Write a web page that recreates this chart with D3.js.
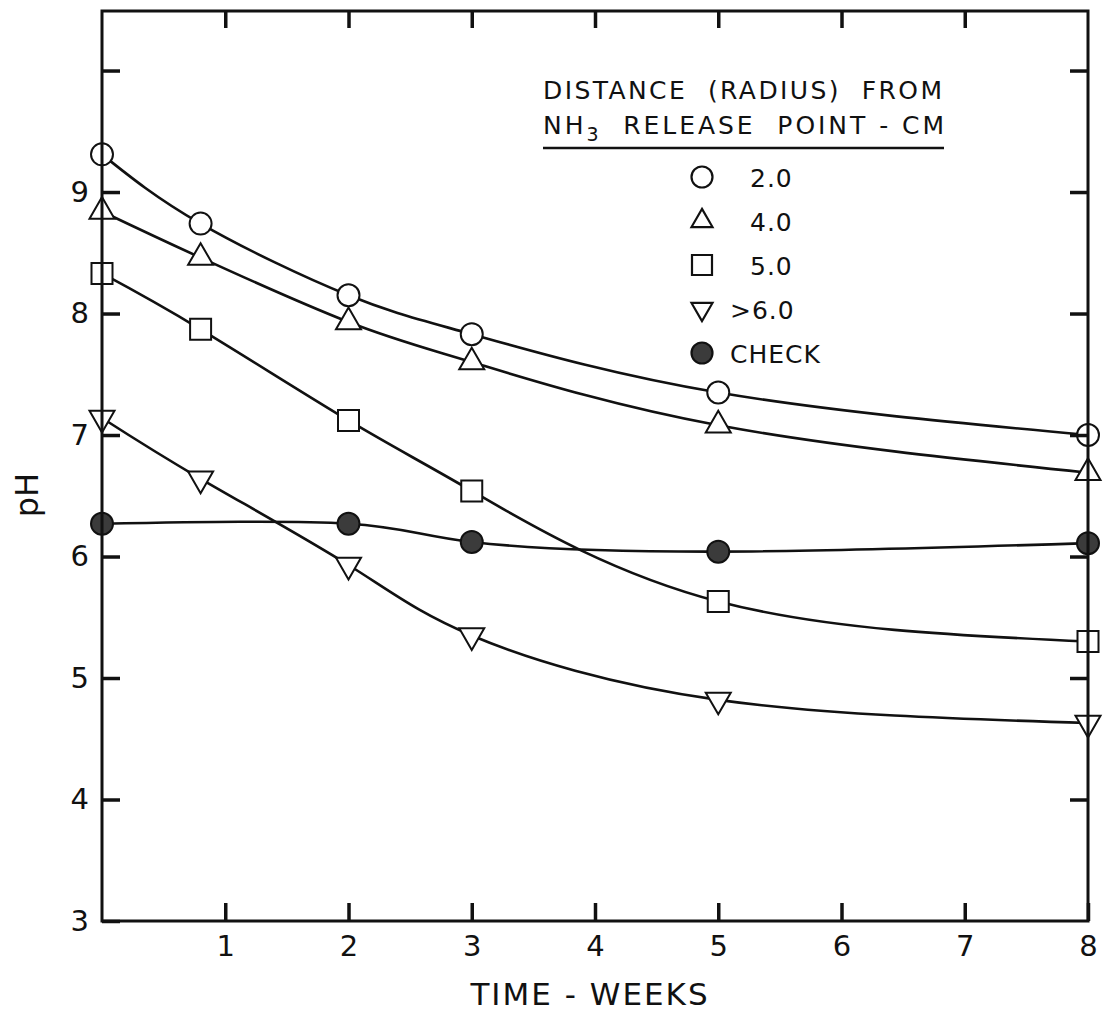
<!DOCTYPE html>
<html>
<head>
<meta charset="utf-8">
<script src="https://cdn.jsdelivr.net/npm/d3@7"></script>
<style>
    body { margin: 0; background: #fff; }
    text { font-family: "DejaVu Sans", sans-serif; fill: #111; }
</style>
</head>
<body>
<div id="chart-area"></div>
<script>
// pH vs time at several distances from the NH3 release point
const weeks = [0, 0.8, 2, 3, 5, 8]
const checkWeeks = [0, 2, 3, 5, 8]
const ph20 = [9.31, 8.74, 8.15, 7.83, 7.35, 7.00]
const ph40 = [8.84, 8.46, 7.93, 7.60, 7.08, 6.69]
const ph50 = [8.33, 7.87, 7.12, 6.54, 5.63, 5.30]
const ph60 = [7.14, 6.64, 5.93, 5.35, 4.82, 4.63]
const phCheck = [6.27, 6.27, 6.12, 6.04, 6.11]

const xTicks = [1, 2, 3, 4, 5, 6, 7, 8]
const yTicks = [3, 4, 5, 6, 7, 8, 9, 10]
const legendTitle1 = "DISTANCE  (RADIUS)  FROM"
const legendLabels = ["2.0", "4.0", "5.0", ">6.0", "CHECK"]

const MARGIN = { left: 102, right: 18, top: 11, bottom: 98 }
const WIDTH = 1106 - MARGIN.left - MARGIN.right
const HEIGHT = 1019 - MARGIN.top - MARGIN.bottom

const svg = d3.select("#chart-area").append("svg")
    .attr("width", 1106)
    .attr("height", 1019)

const g = svg.append("g")
    .attr("transform", `translate(${MARGIN.left}, ${MARGIN.top})`)

const x = d3.scaleLinear()
    .domain([0, 8])
    .range([0, WIDTH])

const y = d3.scaleLinear()
    .domain([3, 10.49])
    .range([HEIGHT, 0])

const series = [
    { name: "2.0", xs: weeks, ys: ph20, shape: "circle" },
    { name: "4.0", xs: weeks, ys: ph40, shape: "tri" },
    { name: "5.0", xs: weeks, ys: ph50, shape: "square" },
    { name: ">6.0", xs: weeks, ys: ph60, shape: "invtri" },
    { name: "CHECK", xs: checkWeeks, ys: phCheck, shape: "dot" }
]

function markerPath(shape, s) {
    if (shape === "circle" || shape === "dot") return d3.symbol(d3.symbolCircle, Math.PI * s * s / 4)()
    if (shape === "square") return d3.symbol(d3.symbolSquare, s * s)()
    return d3.symbol(d3.symbolTriangle, s * s * Math.sqrt(3) / 4)()
}

// smooth curves
const line = d3.line()
    .x(d => x(d[0]))
    .y(d => y(d[1]))
    .curve(d3.curveNatural)

series.forEach(s => {
    g.append("path")
        .attr("d", line(s.xs.map((w, i) => [w, s.ys[i]])))
        .attr("fill", "none")
        .attr("stroke", "#111")
        .attr("stroke-width", 2.6)
})

// markers
series.forEach(s => {
    g.selectAll(null)
        .data(s.xs.map((w, i) => [w, s.ys[i]]))
        .enter().append("path")
        .attr("d", markerPath(s.shape, s.shape === "square" ? 21 : s.shape === "tri" || s.shape === "invtri" ? 25 : 22))
        .attr("transform", d => `translate(${x(d[0])}, ${y(d[1])})` + (s.shape === "invtri" ? " rotate(180)" : ""))
        .attr("fill", s.shape === "dot" ? "#3b3b3b" : "#fff")
        .attr("stroke", "#111")
        .attr("stroke-width", 2)
})

// frame with inward ticks on all sides
g.append("rect")
    .attr("width", WIDTH)
    .attr("height", HEIGHT)
    .attr("fill", "none")
    .attr("stroke", "#111")
    .attr("stroke-width", 3)

const xAxisCall = d3.axisBottom(x)
    .tickValues(xTicks)
    .tickSize(-18)
    .tickPadding(14)
    .tickFormat(d => d)
g.append("g")
    .attr("class", "x axis")
    .attr("transform", `translate(0, ${HEIGHT})`)
    .call(xAxisCall)

const yAxisCall = d3.axisLeft(y)
    .tickValues(yTicks)
    .tickSize(-18)
    .tickPadding(13)
    .tickFormat(d => d === 10 ? "" : d)
g.append("g")
    .attr("class", "y axis")
    .call(yAxisCall)

g.append("g")
    .attr("class", "x axis")
    .call(d3.axisTop(x).tickValues(xTicks.slice(0, -1)).tickSize(-17).tickFormat(""))

g.append("g")
    .attr("class", "y axis")
    .attr("transform", `translate(${WIDTH}, 0)`)
    .call(d3.axisRight(y).tickValues(yTicks.slice(1)).tickSize(-18).tickFormat(""))

g.selectAll(".axis .domain").remove()
g.selectAll(".axis .tick line")
    .attr("stroke", "#111")
    .attr("stroke-width", 3.5)
g.selectAll(".axis .tick text")
    .attr("font-size", "29px")
    .attr("fill", "#111")
    .style("font-family", "'DejaVu Sans', sans-serif")

// axis titles
g.append("text")
    .attr("x", 590 - MARGIN.left)
    .attr("y", HEIGHT + 84)
    .attr("font-size", "31px")
    .attr("text-anchor", "middle")
    .attr("letter-spacing", "2px")
    .text("TIME - WEEKS")

g.append("text")
    .attr("x", -(495 - MARGIN.top))
    .attr("y", -64)
    .attr("font-size", "32px")
    .attr("text-anchor", "middle")
    .attr("transform", "rotate(-90)")
    .text("pH")

// legend
const leg = svg.append("g")

leg.append("text")
    .attr("x", 543)
    .attr("y", 99)
    .attr("font-size", "25px")
    .attr("textLength", 399)
    .attr("lengthAdjust", "spacing")
    .style("white-space", "pre")
    .text(legendTitle1)

const t2 = leg.append("text")
    .attr("x", 543)
    .attr("y", 134)
    .attr("font-size", "25px")
    .attr("textLength", 401)
    .attr("lengthAdjust", "spacing")
    .style("white-space", "pre")
t2.append("tspan").text("NH")
t2.append("tspan").attr("font-size", "19px").attr("dy", 7).text("3")
t2.append("tspan").attr("dy", -7).text("  RELEASE  POINT - CM")

leg.append("line")
    .attr("x1", 543)
    .attr("x2", 944)
    .attr("y1", 148)
    .attr("y2", 148)
    .attr("stroke", "#111")
    .attr("stroke-width", 2.5)

const rows = leg.selectAll(".legend-row")
    .data(series)
    .enter().append("g")
    .attr("class", "legend-row")
    .attr("transform", (d, i) => `translate(702, ${177 + i * 44})`)

rows.append("path")
    .attr("d", d => markerPath(d.shape, d.shape === "square" ? 20 : 21))
    .attr("transform", d => d.shape === "invtri" ? "rotate(180)" : null)
    .attr("fill", d => d.shape === "dot" ? "#3b3b3b" : "#fff")
    .attr("stroke", "#111")
    .attr("stroke-width", 2.2)

rows.append("text")
    .attr("x", (d, i) => legendLabels[i].match(/^\d/) ? 48 : 28)
    .attr("y", 10)
    .attr("font-size", "25px")
    .attr("letter-spacing", "1px")
    .text((d, i) => legendLabels[i])
</script>
</body>
</html>
